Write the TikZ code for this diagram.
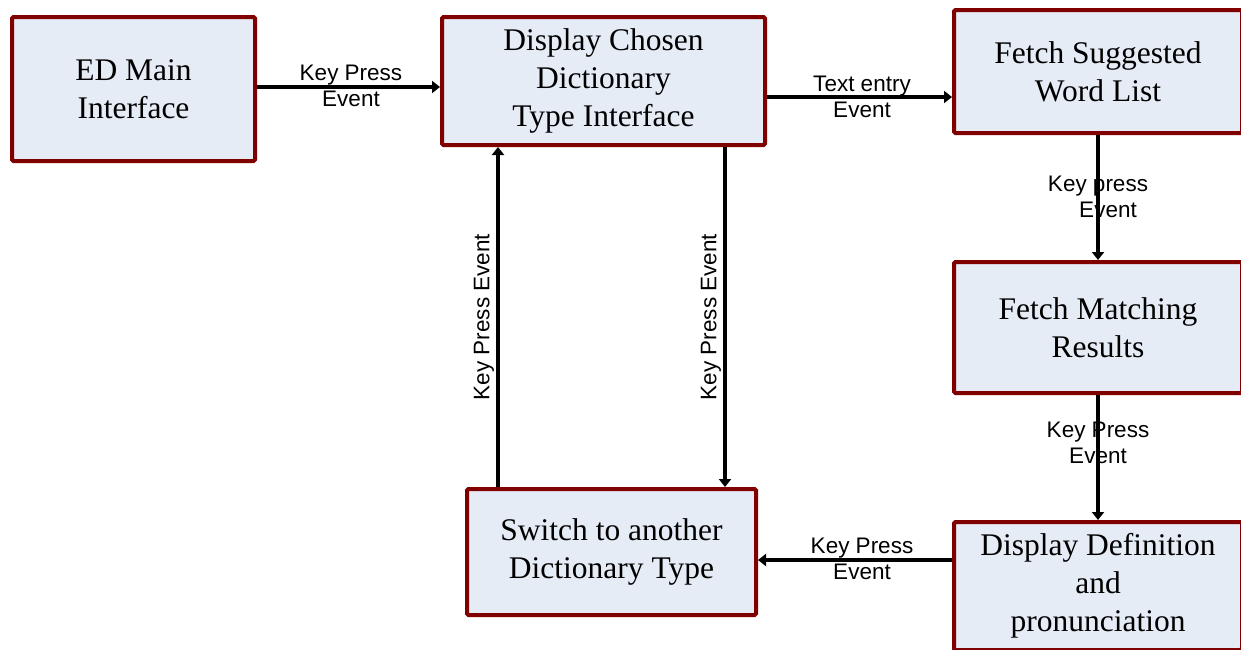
\documentclass[tikz,border=0pt]{standalone}
\usepackage{fontspec}
\setmainfont{Liberation Serif}
\newfontfamily\lsans{Liberation Sans}
\usetikzlibrary{arrows.meta}
\definecolor{boxborder}{RGB}{128,0,0}
\definecolor{boxfill}{RGB}{230,236,246}
\begin{document}
\begin{tikzpicture}[x=1pt,y=-1pt,
  box/.style={draw=boxborder, fill=boxfill, line width=4pt, rounded corners=1.5pt,
    align=center, inner sep=0pt, font=\fontsize{31.5}{38}\selectfont},
  lbl/.style={align=center, inner sep=0pt, font=\lsans\fontsize{22.5}{26}\selectfont},
  arr/.style={line width=3.6pt, -{Triangle[length=8pt,width=12pt]}}]
\useasboundingbox (0,0) rectangle (1241,649);
\clip (0,0) rectangle (1241,649);
% boxes
\node[box, minimum width=243pt, minimum height=144pt] (A) at (133.5,89) {ED Main\\Interface};
\node[box, minimum width=323pt, minimum height=128pt] (B) at (603.5,81) {Display Chosen\\Dictionary\\Type Interface};
\node[box, minimum width=288pt, minimum height=123pt] (C) at (1098,71.5) {Fetch Suggested\\Word List};
\node[box, minimum width=288pt, minimum height=131pt] (D) at (1098,327.5) {Fetch Matching\\Results};
\node[box, minimum width=288pt, minimum height=128pt] (E) at (1098,586) {Display Definition\\and\\pronunciation};
\node[box, minimum width=289pt, minimum height=126pt] (F) at (611.5,552) {Switch to another\\Dictionary Type};
% labels
\node[lbl] (lab1) at (351,86) {Key Press\\Event};
\node[lbl] (lab2) at (862,97) {Text entry\\Event};
\node[lbl] (lab3) at (1098,197) {Key press\\\hspace*{20pt}Event};
\node[lbl] (lab4) at (1098,443) {Key Press\\Event};
\node[lbl] (lab5) at (862,559) {Key Press\\Event};
\node[lbl, rotate=90] (lab6) at (484,317) {Key Press Event};
\node[lbl, rotate=90] (lab7) at (711,317) {Key Press Event};
% connectors
\draw[arr] ([yshift=2pt]A.east) -- ([yshift=2pt]A.east -| B.west);
\draw[arr] ([yshift=-16pt]B.east) -- ([yshift=-16pt]B.east -| C.west);
\draw[arr] (C.south) -- (D.north);
\draw[arr] (D.south) -- (E.north);
\draw[arr] ([yshift=-8pt]F.east -| E.west) -- ([yshift=-8pt]F.east);
\draw[arr] ([xshift=121.5pt]B.south) -- ([xshift=121.5pt]B.south |- F.north);
\draw[arr] ([xshift=-105.5pt]B.south |- F.north) -- ([xshift=-105.5pt]B.south);
\end{tikzpicture}
\end{document}
